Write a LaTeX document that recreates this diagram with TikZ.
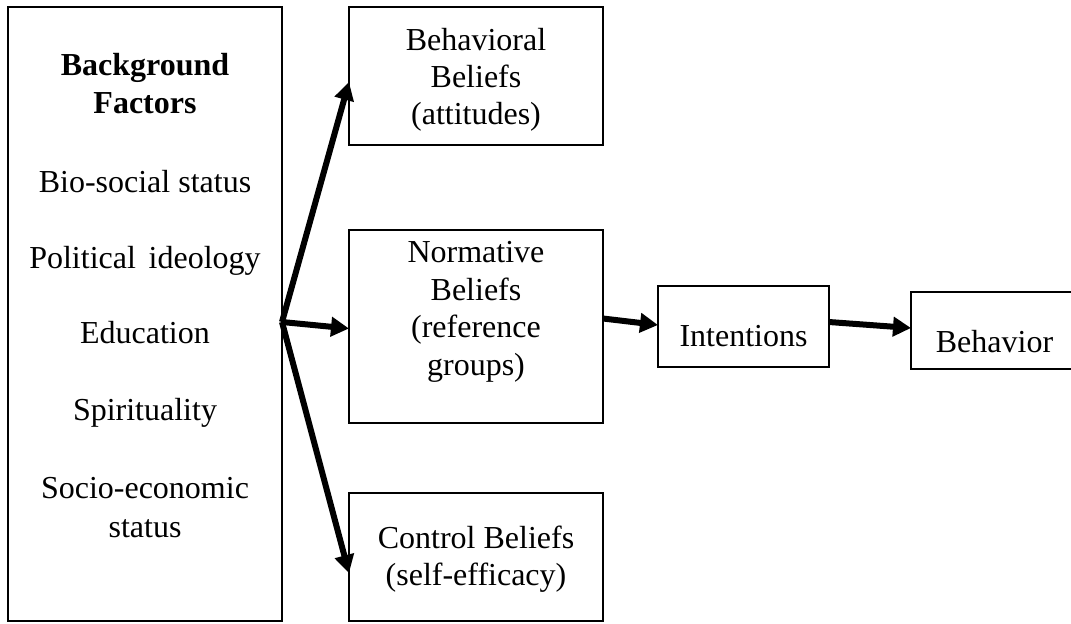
\documentclass[tikz,border=0pt]{standalone}
\usepackage{fontspec}
\setmainfont{Liberation Serif}
\usetikzlibrary{arrows.meta,calc}
\begin{document}
\begin{tikzpicture}[x=0.5pt,y=-0.5pt,
  box/.style={draw=black,line width=1pt,inner sep=0pt,outer sep=0pt,fill=white},
  txt/.style={anchor=base,inner sep=0pt,font=\fontsize{16}{19}\selectfont},
  btxt/.style={txt,font=\fontsize{16}{19}\selectfont\bfseries},
  arr/.style={line width=3pt,-{Triangle[length=9pt,width=9.5pt]}}]
\useasboundingbox (0,0) rectangle (1071,623);
% boxes
\node[box,minimum width=137pt,minimum height=307pt] (bg) at (145,314) {};
\node[box,minimum width=127pt,minimum height=69pt] (beh) at (476,76) {};
\node[box,minimum width=127pt,minimum height=96.5pt] (nor) at (476,326.5) {};
\node[box,minimum width=127pt,minimum height=64pt] (con) at (476,557) {};
\node[box,minimum width=85.5pt,minimum height=40.5pt] (int) at (743.5,326.5) {};
\node[box,minimum width=84.5pt,minimum height=38.5pt] (bhv) at (995.5,330.5) {};
% background texts
\node[btxt] (t1) at (145,75) {Background};
\node[btxt] (t2) at (145,113) {Factors};
\node[txt] (t3) at (145,192) {Bio-social status};
\node[txt] (t4) at (145,268) {Political\hspace{0.15em} ideology};
\node[txt] (t5) at (145,343) {Education};
\node[txt] (t6) at (145,420) {Spirituality};
\node[txt] (t7) at (145,498) {Socio-economic};
\node[txt] (t8) at (145,537) {status};
% right boxes texts
\node[txt] (b1) at (476,50) {Behavioral};
\node[txt] (b2) at (476,87) {Beliefs};
\node[txt] (b3) at (476,124) {(attitudes)};
\node[txt] (n1) at (476,262) {Normative};
\node[txt] (n2) at (476,300) {Beliefs};
\node[txt] (n3) at (476,337) {(reference};
\node[txt] (n4) at (476,375) {groups)};
\node[txt] (c1) at (476,548) {Control Beliefs};
\node[txt] (c2) at (476,585) {(self-efficacy)};
\node[txt] (i1) at (743.5,346) {Intentions};
\node[txt] (h1) at (994.5,352) {Behavior};
% connectors
\coordinate (src) at ($(bg.east)+(0,8)$);
\draw[arr] (src) -- ($(beh.west)+(0,6)$);
\draw[arr] (src) -- ($(nor.west)+(0,2)$);
\draw[arr] (src) -- ($(con.west)+(0,16)$);
\draw[arr] ($(nor.east)+(0,-8)$) -- ($(int.west)+(0,-1.5)$);
\draw[arr] ($(int.east)+(0,-4.5)$) -- ($(bhv.west)+(0,-2.5)$);
\end{tikzpicture}
\end{document}
